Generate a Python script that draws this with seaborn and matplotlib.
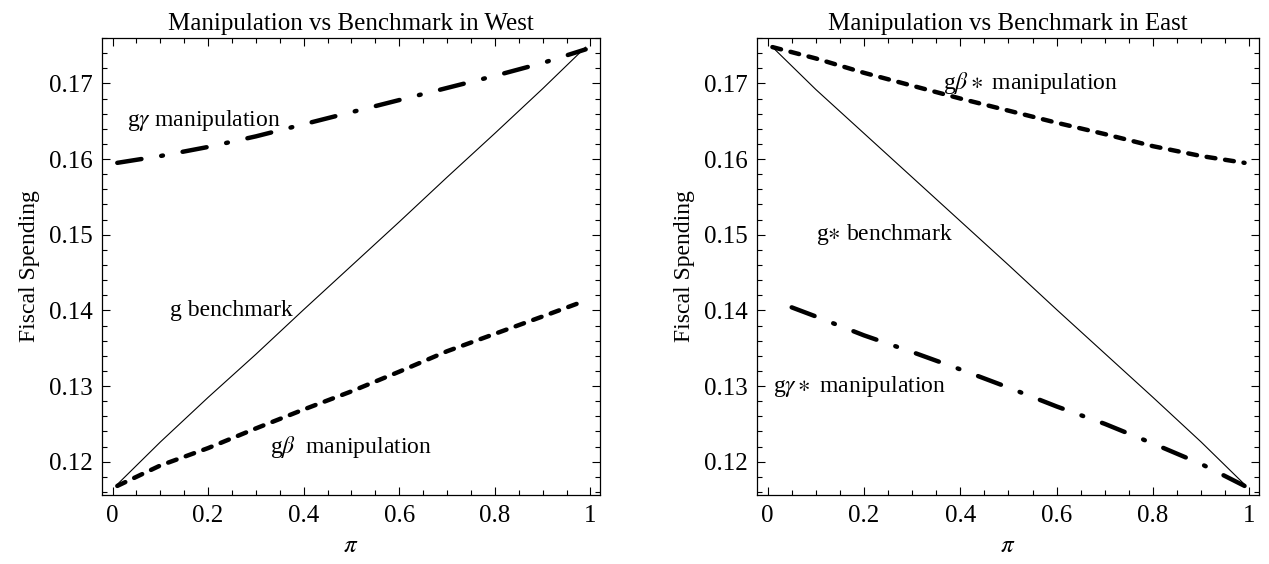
import numpy as np
import pandas as pd
import seaborn as sns
import matplotlib.pyplot as plt
from matplotlib.ticker import MultipleLocator

sns.set_style("ticks")
plt.rcParams['font.family'] = ['Liberation Serif', 'DejaVu Serif']
plt.rcParams['mathtext.fontset'] = 'stix'
plt.rcParams['text.color'] = 'black'
plt.rcParams['axes.labelcolor'] = 'black'
plt.rcParams['xtick.color'] = 'black'
plt.rcParams['ytick.color'] = 'black'
plt.rcParams['axes.edgecolor'] = 'black'

# West panel
pi_w = [0.01, 0.1, 0.2, 0.3, 0.4, 0.5, 0.6, 0.7, 0.8, 0.9, 0.99]
g_bench = [0.1170, 0.1226, 0.1285, 0.1342, 0.1401, 0.1459, 0.1517, 0.1576, 0.1634, 0.1693, 0.1748]
g_gamma = [0.1595, 0.1604, 0.1616, 0.1630, 0.1646, 0.1662, 0.1678, 0.1694, 0.1710, 0.1727, 0.1745]
g_beta = [0.1168, 0.1195, 0.1218, 0.1244, 0.1269, 0.1293, 0.1319, 0.1346, 0.1369, 0.1392, 0.1413]

# East panel
pi_e = [0.01, 0.1, 0.2, 0.3, 0.4, 0.5, 0.6, 0.7, 0.8, 0.9, 0.99]
gs_bench = [0.1748, 0.1692, 0.1634, 0.1576, 0.1518, 0.1460, 0.1401, 0.1343, 0.1285, 0.1226, 0.1170]
gs_beta = [0.1748, 0.1733, 0.1714, 0.1697, 0.1680, 0.1664, 0.1648, 0.1633, 0.1617, 0.1604, 0.1595]
pi_e2 = [0.05, 0.1, 0.2, 0.3, 0.4, 0.5, 0.6, 0.7, 0.8, 0.9, 0.99]
gs_gamma = [0.1404, 0.1392, 0.1367, 0.1345, 0.1322, 0.1298, 0.1273, 0.1250, 0.1224, 0.1197, 0.1168]

dashdot = (0, (5.5, 4.5, 0.4, 4.5))
dashed = (0, (2, 2.2))

fig = plt.figure(figsize=(12.69, 5.64), dpi=100)
ax1 = fig.add_axes([102/1269, 69/564, 498/1269, 457/564])
ax2 = fig.add_axes([757/1269, 69/564, 502/1269, 457/564])

sns.lineplot(x=pi_w, y=g_bench, ax=ax1, color='black', linewidth=0.8)
sns.lineplot(x=pi_w, y=g_gamma, ax=ax1, color='black', linewidth=3.2,
             linestyle=dashdot, dash_capstyle='round')
sns.lineplot(x=pi_w, y=g_beta, ax=ax1, color='black', linewidth=3.2,
             linestyle=dashed, dash_capstyle='round')

sns.lineplot(x=pi_e, y=gs_bench, ax=ax2, color='black', linewidth=0.8)
sns.lineplot(x=pi_e, y=gs_beta, ax=ax2, color='black', linewidth=3.2,
             linestyle=dashed, dash_capstyle='round')
sns.lineplot(x=pi_e2, y=gs_gamma, ax=ax2, color='black', linewidth=3.2,
             linestyle=dashdot, dash_capstyle='round')

fs = 18
afs = 17
ax1.text(0.03, 0.1651, r'g$\gamma$ manipulation', fontsize=afs, va='center')
ax1.text(0.12, 0.1400, 'g benchmark', fontsize=afs, va='center')
ax1.text(0.33, 0.1220, r'g$\beta$  manipulation', fontsize=afs, va='center')

ax2.text(0.365, 0.1700, r'g$\beta\ast$ manipulation', fontsize=afs, va='center')
ax2.text(0.10, 0.1500, r'g$\ast$ benchmark', fontsize=afs, va='center')
ax2.text(0.012, 0.1300, r'g$\gamma\ast$ manipulation', fontsize=afs, va='center')

titles = ['Manipulation vs Benchmark in West', 'Manipulation vs Benchmark in East']
for ax, t in zip([ax1, ax2], titles):
    ax.set_xlim(-0.022, 1.02)
    ax.set_ylim(0.1156, 0.1760)
    ax.xaxis.set_minor_locator(MultipleLocator(0.05))
    ax.yaxis.set_minor_locator(MultipleLocator(0.002))
    ax.set_xticks([0, 0.2, 0.4, 0.6, 0.8, 1.0])
    ax.set_xticklabels(['0', '0.2', '0.4', '0.6', '0.8', '1'])
    ax.set_yticks([0.12, 0.13, 0.14, 0.15, 0.16, 0.17])
    ax.set_yticklabels(['0.12', '0.13', '0.14', '0.15', '0.16', '0.17'])
    ax.tick_params(which='both', direction='in', top=True, right=True,
                   labelsize=fs, width=0.8, pad=7)
    ax.tick_params(which='major', length=6)
    ax.tick_params(which='minor', length=3.5)
    for s in ax.spines.values():
        s.set_linewidth(0.9)
    ax.set_title(t, fontsize=fs, pad=6)
    ax.set_xlabel(r'$\pi$', fontsize=fs, labelpad=6)
    ax.set_ylabel('Fiscal Spending', fontsize=17, labelpad=6)

fig.savefig('out.png', dpi=100)
